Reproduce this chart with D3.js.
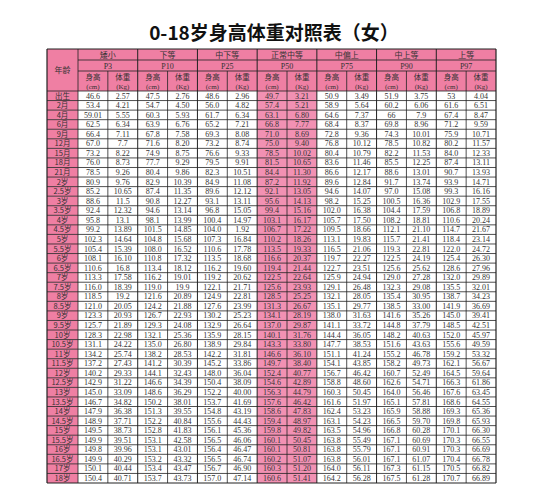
<!DOCTYPE html>
<html><head><meta charset="utf-8">
<script src="https://cdn.jsdelivr.net/npm/d3@7"></script>
<style>body{margin:0;background:#fff}</style></head>
<body><svg id="c" width="548" height="500"></svg>
<script>
const title = "0-18岁身高体重对照表（女）";
const levels = ["矮小","下等","中下等","正常中等","中偏上","中上等","上等"];
const pcts = ["P3","P10","P25","P50","P75","P90","P97"];
const ages = ["出生","2月","4月","6月","9月","12月","15月","18月","21月","2岁","2.5岁","3岁","3.5岁","4岁","4.5岁","5岁","5.5岁","6岁","6.5岁","7岁","7.5岁","8岁","8.5岁","9岁","9.5岁","10岁","10.5岁","11岁","11.5岁","12岁","12.5岁","13岁","13.5岁","14岁","14.5岁","15岁","15.5岁","16岁","16.5岁","17岁","18岁"];
const rows = [
"46.6 2.57 47.5 2.76 48.6 2.96 49.7 3.21 50.9 3.49 51.9 3.75 53 4.04",
"53.4 4.21 54.7 4.50 56.0 4.82 57.4 5.21 58.9 5.64 60.2 6.06 61.6 6.51",
"59.01 5.55 60.3 5.93 61.7 6.34 63.1 6.80 64.6 7.37 66 7.9 67.4 8.47",
"62.5 6.34 63.9 6.76 65.2 7.21 66.8 7.77 68.4 8.37 69.8 8.96 71.2 9.59",
"66.4 7.11 67.8 7.58 69.3 8.08 71.0 8.69 72.8 9.36 74.3 10.01 75.9 10.71",
"67.0 7.7 71.6 8.20 73.2 8.74 75.0 9.40 76.8 10.12 78.5 10.82 80.2 11.57",
"73.2 8.22 74.9 8.75 76.6 9.33 78.5 10.02 80.4 10.79 82.2 11.53 84.0 12.33",
"76.0 8.73 77.7 9.29 79.5 9.91 81.5 10.65 83.6 11.46 85.5 12.25 87.4 13.11",
"78.5 9.26 80.4 9.86 82.3 10.51 84.4 11.30 86.6 12.17 88.6 13.01 90.7 13.93",
"80.9 9.76 82.9 10.39 84.9 11.08 87.2 11.92 89.6 12.84 91.7 13.74 93.9 14.71",
"85.2 10.65 87.4 11.35 89.6 12.12 92.1 13.05 94.6 14.07 97.0 15.08 99.3 16.16",
"88.6 11.5 90.8 12.27 93.1 13.11 95.6 14.13 98.2 15.25 100.5 16.36 102.9 17.55",
"92.4 12.32 94.6 13.14 96.8 15.05 99.4 15.16 102.0 16.38 104.4 17.59 106.8 18.89",
"95.8 13.1 98.1 13.99 100.4 14.97 103.1 16.17 105.7 17.50 108.2 18.81 110.6 20.24",
"99.2 13.89 101.5 14.85 104.0 1.92 106.7 17.22 109.5 18.66 112.1 21.10 114.7 21.67",
"102.3 14.64 104.8 15.68 107.3 16.84 110.2 18.26 113.1 19.83 115.7 21.41 118.4 23.14",
"105.4 15.39 108.0 16.52 110.6 17.78 113.5 19.33 116.5 21.06 119.3 22.81 122.0 24.72",
"108.1 16.10 110.8 17.32 113.5 18.68 116.6 20.37 119.7 22.27 122.5 24.19 125.4 26.30",
"110.6 16.8 113.4 18.12 116.2 19.60 119.4 21.44 122.7 23.51 125.6 25.62 128.6 27.96",
"113.3 17.58 116.2 19.01 119.2 20.62 122.5 22.64 125.9 24.94 129.0 27.28 132.0 29.89",
"116.0 18.39 119.0 19.9 122.1 21.71 125.6 23.93 129.1 26.48 132.3 29.08 135.5 32.01",
"118.5 19.2 121.6 20.89 124.9 22.81 128.5 25.25 132.1 28.05 135.4 30.95 138.7 34.23",
"121.0 20.05 124.2 21.88 127.6 23.99 131.3 26.67 135.1 29.77 138.5 33.00 141.9 36.69",
"123.3 20.93 126.7 22.93 130.2 25.23 134.1 28.19 138.0 31.63 141.6 35.26 145.0 39.41",
"125.7 21.89 129.3 24.08 132.9 26.64 137.0 29.87 141.1 33.72 144.8 37.79 148.5 42.51",
"128.3 22.98 132.1 25.36 135.9 28.15 140.1 31.76 144.4 36.05 148.2 40.63 152.0 45.97",
"131.1 24.22 135.0 26.80 138.9 29.84 143.3 33.80 147.7 38.53 151.6 43.63 155.6 49.59",
"134.2 25.74 138.2 28.53 142.2 31.81 146.6 36.10 151.1 41.24 155.2 46.78 159.2 53.32",
"137.2 27.43 141.2 30.39 145.2 33.86 149.7 38.40 154.1 43.85 158.2 49.73 162.1 56.67",
"140.2 29.33 144.1 32.43 148.0 36.04 152.4 40.77 156.7 46.42 160.7 52.49 164.5 59.64",
"142.9 31.22 146.6 34.39 150.4 38.09 154.6 42.89 158.8 48.60 162.6 54.71 166.3 61.86",
"145.0 33.09 148.6 36.29 152.2 40.00 156.3 44.79 160.3 50.45 164.0 56.46 167.6 63.45",
"146.7 34.82 150.2 38.01 153.7 41.69 157.6 46.42 161.6 51.97 165.1 57.81 168.6 64.55",
"147.9 36.38 151.3 39.55 154.8 43.19 158.6 47.83 162.4 53.23 165.9 58.88 169.3 65.36",
"148.9 37.71 152.2 40.84 155.6 44.43 159.4 48.97 163.1 54.23 166.5 59.70 169.8 65.93",
"149.5 38.73 152.8 41.83 156.1 45.36 159.8 49.82 163.5 54.96 166.8 60.28 170.1 66.30",
"149.9 39.51 153.1 42.58 156.5 46.06 160.1 50.45 163.8 55.49 167.1 60.69 170.3 66.55",
"149.8 39.96 153.1 43.01 156.4 46.47 160.1 50.81 163.8 55.79 167.1 60.91 170.3 66.69",
"149.9 40.29 153.2 43.32 156.5 46.74 160.2 51.07 163.8 56.01 167.1 61.07 170.4 66.78",
"150.1 40.44 153.4 43.47 156.7 46.90 160.3 51.20 164.0 56.11 167.3 61.15 170.5 66.82",
"150.4 40.71 153.7 43.73 157.0 47.14 160.6 51.41 164.2 56.28 167.5 61.28 170.7 66.89"
].map(s=>s.split(" "));

const svg = d3.select("#c");
const L=47, R=496, T=49, hdr=[11,11,20], B=483;
const pink="#ef7fa3", pink2="#f291b3", line="#222";
const cf="'Noto Sans CJK SC',sans-serif", nf="'Liberation Serif',serif";
svg.append("text").attr("x",274).attr("y",40).attr("text-anchor","middle")
  .attr("font-family",cf).attr("font-size",19).attr("font-weight","bold").attr("fill","#111").text(title);

const ageW=31;
const x = d3.scaleBand().domain(d3.range(14)).range([L+ageW,R]);
const dataTop=T+hdr[0]+hdr[1]+hdr[2];
const y = d3.scaleBand().domain(d3.range(ages.length)).range([dataTop,B]);
const g=svg.append("g");
// header background
g.append("rect").attr("x",L).attr("y",T).attr("width",R-L).attr("height",dataTop-T).attr("fill",pink);
// age column
g.selectAll(".ar").data(ages).join("rect").attr("x",L).attr("y",(d,i)=>y(i)).attr("width",ageW).attr("height",y.bandwidth()).attr("fill",pink);
// P50 columns
[6,7].forEach(c=>g.append("rect").attr("x",x(c)).attr("y",dataTop).attr("width",x.bandwidth()).attr("height",B-dataTop).attr("fill",pink2));
function ln(x1,y1,x2,y2,w){g.append("line").attr("x1",x1).attr("y1",y1).attr("x2",x2).attr("y2",y2).attr("stroke",line).attr("stroke-width",w||0.8);}
// header text
const ht=(tx,ty,s,fs,f)=>g.append("text").attr("x",tx).attr("y",ty).attr("text-anchor","middle").attr("font-family",f||cf).attr("font-size",fs||8).attr("fill","#333").text(s);
ht(L+ageW/2,T+(dataTop-T)/2+3,"年龄");
levels.forEach((s,i)=>{const cx=x(2*i)+x.bandwidth();ht(cx,T+hdr[0]-2.5,s);ht(cx,T+hdr[0]+hdr[1]-2.5,pcts[i],8,nf);
  ht(x(2*i)+x.bandwidth()/2,T+hdr[0]+hdr[1]+9,"身高",7.5);ht(x(2*i)+x.bandwidth()/2,dataTop-2,"(cm)",7,nf);
  ht(x(2*i+1)+x.bandwidth()/2,T+hdr[0]+hdr[1]+9,"体重",7.5);ht(x(2*i+1)+x.bandwidth()/2,dataTop-2,"(Kg)",7,nf);});
// grid
ln(L,T,R,T,1.2);ln(L+ageW,T+hdr[0],R,T+hdr[0]);ln(L+ageW,T+hdr[0]+hdr[1],R,T+hdr[0]+hdr[1]);
ages.forEach((a,i)=>ln(L,y(i),R,y(i)));ln(L,B,R,B,1.2);
ln(L,T,L,B,1.2);ln(R,T,R,B,1.2);ln(L+ageW,T,L+ageW,B);
d3.range(1,14).forEach(c=>ln(x(c),c%2==0?T:T+hdr[0]+hdr[1],x(c),B, c%2==0?1:0.8));
// data text
ages.forEach((a,i)=>{
  g.append("text").attr("x",L+ageW/2).attr("y",y(i)+y.bandwidth()-2).attr("text-anchor","middle").attr("font-family",cf).attr("font-size",7.5).attr("fill","#333").text(a);
  rows[i].forEach((v,c)=>g.append("text").attr("x",x(c)+x.bandwidth()/2).attr("y",y(i)+y.bandwidth()-2).attr("text-anchor","middle").attr("font-family",nf).attr("font-size",8).attr("fill","#333").text(v));
});
</script></body></html>
